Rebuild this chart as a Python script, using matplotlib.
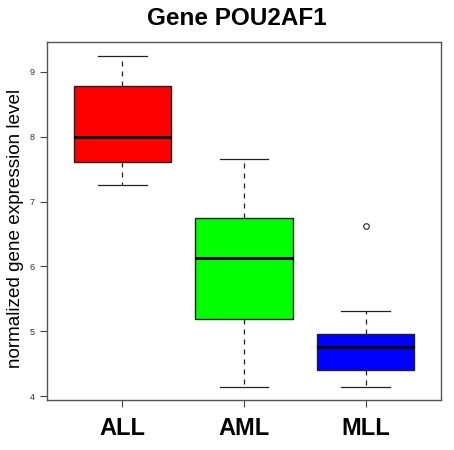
import matplotlib
matplotlib.use("Agg")
import matplotlib.pyplot as plt

# values
groups = ["ALL", "AML", "MLL"]
box_colors = ["#ff0000", "#00ff00", "#0000ff"]
whisker_low = [7.26, 4.14, 4.14]
q1 = [7.61, 5.19, 4.40]
medians = [8.00, 6.13, 4.76]
q3 = [8.78, 6.75, 4.96]
whisker_high = [9.25, 7.66, 5.31]
outliers = [[], [], [6.62]]

plt.rcParams['font.family'] = ['Liberation Sans', 'DejaVu Sans']

fig = plt.figure(figsize=(4.54, 4.5), dpi=100)
ax = fig.add_axes([0.1035, 0.111, 0.8679, 0.7957])

stats = []
for i, g in enumerate(groups):
    stats.append({
        "label": g,
        "whislo": whisker_low[i],
        "q1": q1[i],
        "med": medians[i],
        "q3": q3[i],
        "whishi": whisker_high[i],
        "fliers": outliers[i],
    })

bp = ax.bxp(stats, positions=[1, 2, 3], widths=0.8, patch_artist=True,
            showfliers=True,
            boxprops=dict(edgecolor="#222222", linewidth=1.0),
            medianprops=dict(color="black", linewidth=2.2),
            whiskerprops=dict(color="#222222", linewidth=0.9, linestyle=(0, (4, 4))),
            capprops=dict(color="#222222", linewidth=0.9),
            flierprops=dict(marker="o", markersize=4, markerfacecolor="none",
                            markeredgecolor="#222222", markeredgewidth=0.8))
for patch, c in zip(bp["boxes"], box_colors):
    patch.set_facecolor(c)
for cap in bp["caps"]:
    x0, x1 = cap.get_xdata()
    mid = (x0 + x1) / 2
    cap.set_xdata([mid - 0.2, mid + 0.2])

ax.set_xlim(0.38, 3.62)
ax.set_ylim(3.94, 9.46)
ax.set_yticks([4, 5, 6, 7, 8, 9])
ax.set_yticklabels(["4", "5", "6", "7", "8", "9"], fontsize=6.5, color="#333333")
ax.set_xticks([1, 2, 3])
ax.set_xticklabels(groups, fontsize=17, fontweight="bold")
ax.tick_params(axis="x", length=5, width=0.8, color="#444444", pad=7)
ax.tick_params(axis="y", length=5, width=0.8, color="#444444", pad=4)
for s in ax.spines.values():
    s.set_color("#555555")
    s.set_linewidth(1.0)

ax.set_ylabel("normalized gene expression level", fontsize=13.6)
ax.yaxis.set_label_coords(-0.058, 0.479)
fig.text(0.522, 0.958, "Gene POU2AF1", ha="center", va="center",
         fontsize=17.5, fontweight="bold")

fig.savefig("out.png", dpi=100)
